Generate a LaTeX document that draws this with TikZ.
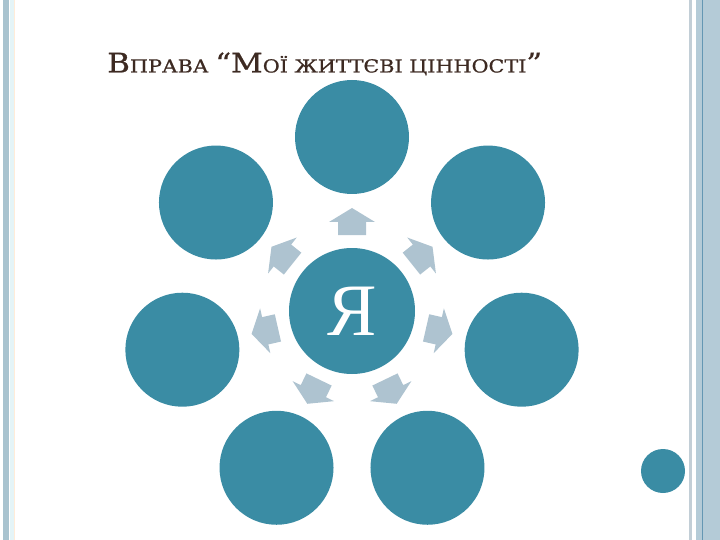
\documentclass[tikz,border=0pt]{standalone}
\usepackage{fontspec}
\setmainfont{Liberation Serif}
\newfontfamily\titlefont[FakeStretch=1.15,FakeBold=0.8]{DejaVu Serif}
\usetikzlibrary{calc}
\definecolor{teal1}{HTML}{3A8CA4}
\definecolor{arrowc}{HTML}{AEC3D0}
\definecolor{titlec}{HTML}{3D2A22}
\definecolor{bandA}{HTML}{A9C3CF}
\definecolor{bandB}{HTML}{E4F4F7}
\definecolor{bandC}{HTML}{C2CED6}
\definecolor{bandD}{HTML}{B4CBD7}
\definecolor{bandE}{HTML}{6497B3}
\tikzset{
  valcircle/.style={circle, fill=teal1, minimum size=114pt, inner sep=0pt},
  mecircle/.style={circle, fill=teal1, minimum size=126pt, inner sep=0pt, text=white, font=\fontsize{74}{74}\selectfont},
  dot/.style={circle, fill=teal1, minimum size=44pt, inner sep=0pt},
  outarrow/.style={fill=arrowc},
}
\newcommand{\bigc}[1]{{\fontsize{27}{27}\selectfont #1}}
\newcommand{\smallc}[1]{{\fontsize{18}{18}\selectfont #1}}
\begin{document}
\begin{tikzpicture}[x=1pt,y=-1pt]
\useasboundingbox (0,0) rectangle (720,540);
% borders
\fill[bandA] (3,0) rectangle (9,540);
\fill[bandB] (10,0) rectangle (13.5,540);
\draw[color=orange!15, line width=0.6pt] (14.5,0) -- (14.5,540);
\fill[bandC] (689,0) rectangle (692,540);
\fill[bandD] (696,0) rectangle (720,540);
\draw[bandE, line width=1pt] (702,0) -- (702,540);
% title
\node[anchor=base west, inner sep=0pt, text=titlec, font=\titlefont] (title) at (107,72.5)
  {\bigc{В}\smallc{ПРАВА }\bigc{“М}\smallc{ОЇ ЖИТТЄВІ ЦІННОСТІ}\bigc{”}};
% centre
\coordinate (c) at (352,311);
\node[mecircle] (me) at (c) {Я};
% outer circles and arrows
\foreach \a/\n in {90/v1, 38.571/v2, -12.857/v3, -64.286/v4, -115.714/v5, -167.143/v6, 141.429/v7}{
  \node[valcircle] (\n) at ($(c)+(\a:174pt)$) {};
  \begin{scope}[shift={(c)}, rotate=\a]
    \fill[outarrow] (76pt,-14pt) -- (89pt,-14pt) -- (89pt,-23pt) -- (103pt,0pt)
      -- (89pt,23pt) -- (89pt,14pt) -- (76pt,14pt) -- cycle;
  \end{scope}
}
\node[dot] (small) at (663,471) {};
\end{tikzpicture}
\end{document}
